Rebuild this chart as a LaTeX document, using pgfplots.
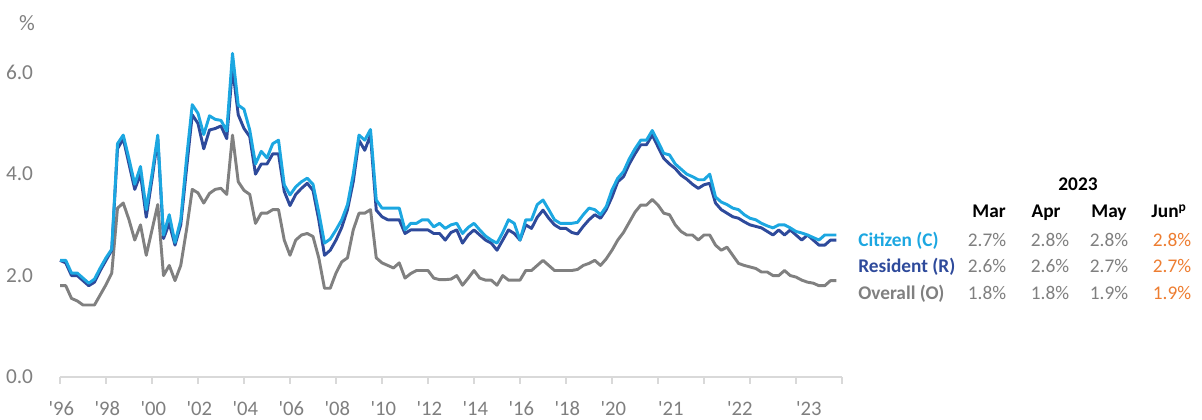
\documentclass[border=0pt]{standalone}
\usepackage{fontspec}
\setmainfont{Carlito}
\usepackage{pgfplots}
\pgfplotsset{compat=1.18}
\usepackage{pgfplotstable}
\definecolor{cit}{HTML}{1CA7E1}
\definecolor{res}{HTML}{2E4A9B}
\definecolor{ovr}{HTML}{808080}
\definecolor{lbl}{HTML}{7F7F7F}
\definecolor{org}{HTML}{ED7D31}
\definecolor{axl}{HTML}{D9D9D9}

\pgfplotstableread{
i C R O
0 2.30 2.30 1.80
1 2.30 2.25 1.80
2 2.05 2.00 1.55
3 2.05 2.00 1.50
4 1.95 1.90 1.42
5 1.85 1.80 1.42
6 1.93 1.87 1.42
7 2.15 2.10 1.62
8 2.35 2.30 1.82
9 2.52 2.50 2.05
10 4.60 4.50 3.33
11 4.77 4.70 3.43
12 4.30 4.20 3.10
13 3.80 3.70 2.70
14 4.15 4.00 3.00
15 3.30 3.15 2.40
16 4.00 3.90 2.90
17 4.77 4.70 3.40
18 2.80 2.73 2.00
19 3.20 3.03 2.20
20 2.65 2.60 1.90
21 3.10 3.00 2.20
22 4.30 4.10 2.90
23 5.37 5.17 3.70
24 5.20 5.00 3.63
25 4.78 4.50 3.43
26 5.15 4.87 3.62
27 5.08 4.90 3.70
28 5.06 4.95 3.72
29 4.85 4.70 3.60
30 6.38 6.10 4.77
31 5.36 5.17 3.85
32 5.28 4.90 3.68
33 4.87 4.74 3.60
34 4.20 4.00 3.03
35 4.45 4.20 3.23
36 4.32 4.20 3.23
37 4.60 4.40 3.30
38 4.67 4.40 3.30
39 3.79 3.66 2.70
40 3.59 3.38 2.40
41 3.75 3.60 2.70
42 3.85 3.72 2.80
43 3.92 3.82 2.83
44 3.80 3.68 2.77
45 3.25 3.10 2.35
46 2.64 2.40 1.75
47 2.72 2.50 1.75
48 2.90 2.70 2.05
49 3.10 2.95 2.27
50 3.40 3.30 2.35
51 4.00 3.85 2.90
52 4.77 4.67 3.23
53 4.67 4.47 3.23
54 4.88 4.77 3.30
55 3.49 3.29 2.35
56 3.33 3.16 2.25
57 3.33 3.10 2.20
58 3.33 3.10 2.15
59 3.33 3.10 2.25
60 2.90 2.83 1.95
61 3.03 2.90 2.04
62 3.03 2.90 2.10
63 3.10 2.90 2.10
64 3.10 2.90 2.10
65 2.96 2.83 1.95
66 3.03 2.83 1.92
67 2.93 2.70 1.92
68 3.00 2.85 1.93
69 3.03 2.90 2.00
70 2.83 2.64 1.81
71 2.95 2.80 1.95
72 3.03 2.90 2.10
73 2.90 2.80 1.95
74 2.78 2.70 1.91
75 2.70 2.64 1.91
76 2.64 2.50 1.81
77 2.85 2.70 2.00
78 3.10 2.90 1.91
79 3.03 2.83 1.91
80 2.70 2.70 1.91
81 3.10 3.00 2.10
82 3.10 2.93 2.10
83 3.40 3.15 2.20
84 3.49 3.29 2.30
85 3.30 3.13 2.20
86 3.10 3.00 2.10
87 3.03 2.93 2.10
88 3.03 2.93 2.10
89 3.03 2.85 2.10
90 3.05 2.82 2.12
91 3.20 2.97 2.20
92 3.33 3.10 2.24
93 3.30 3.20 2.30
94 3.20 3.13 2.20
95 3.36 3.30 2.33
96 3.69 3.55 2.50
97 3.92 3.85 2.70
98 4.05 3.95 2.85
99 4.30 4.20 3.05
100 4.50 4.40 3.25
101 4.67 4.58 3.39
102 4.67 4.58 3.39
103 4.86 4.77 3.50
104 4.64 4.54 3.39
105 4.41 4.31 3.23
106 4.38 4.20 3.20
107 4.20 4.11 3.00
108 4.10 3.98 2.87
109 4.00 3.90 2.80
110 3.95 3.80 2.80
111 3.89 3.72 2.70
112 3.89 3.79 2.80
113 4.00 3.82 2.80
114 3.55 3.43 2.60
115 3.45 3.30 2.50
116 3.40 3.23 2.56
117 3.33 3.16 2.40
118 3.30 3.13 2.24
119 3.20 3.06 2.20
120 3.13 3.00 2.17
121 3.10 2.97 2.14
122 3.03 2.94 2.07
123 2.98 2.87 2.07
124 2.94 2.80 2.00
125 3.00 2.90 2.00
126 3.00 2.80 2.10
127 2.94 2.90 2.00
128 2.87 2.80 1.97
129 2.84 2.70 1.91
130 2.80 2.80 1.87
131 2.75 2.70 1.85
132 2.70 2.60 1.80
133 2.80 2.60 1.80
134 2.80 2.70 1.90
135 2.80 2.70 1.90
}\data

\begin{document}
\begin{tikzpicture}[x=0.75pt,y=0.75pt]
\path (0,0) rectangle (1202,418);
\begin{axis}[
  scale only axis, width=586.5pt, height=266.25pt,
  at={(45pt,30.75pt)}, anchor=south west,
  xmin=0, xmax=136, ymin=0, ymax=7,
  axis x line*=bottom, axis y line*=left,
  x axis line style={draw=axl, line width=1pt, -},
  y axis line style={draw=none},
  tick align=outside,
  xtick={0,8,...,136}, xticklabels={},
  xtick style={draw=axl, line width=1pt},
  major tick length=5pt,
  ytick={0,2,4,6}, yticklabels={0.0,2.0,4.0,6.0},
  ytick style={draw=none},
  yticklabel style={font=\fontsize{16}{16}\selectfont, text=lbl, inner sep=0pt, xshift=-15pt},
  extra x ticks={0,8,16,24,32,40,48,56,64,72,80,88,96,106,118,130},
  extra x tick labels={\textquotesingle96,\textquotesingle98,\textquotesingle00,\textquotesingle02,\textquotesingle04,\textquotesingle06,\textquotesingle08,\textquotesingle10,\textquotesingle12,\textquotesingle14,\textquotesingle16,\textquotesingle18,\textquotesingle20,\textquotesingle21,\textquotesingle22,\textquotesingle23},
  extra x tick style={major tick length=0pt, xticklabel style={font=\fontsize{15.5}{15.5}\selectfont, text=lbl, anchor=base, yshift=-28.5pt, xshift=1pt}},
  clip=false,
  line join=round,
]
\addplot[ovr, line width=2.2pt] table[x=i, y=O] {\data};
\addplot[res, line width=2.2pt] table[x=i, y=R] {\data};
\addplot[cit, line width=2.2pt] table[x=i, y=C] {\data};
\end{axis}
\node[text=lbl, font=\fontsize{16.5}{16.5}\selectfont] at (27,395) {\%};
\begin{scope}[every node/.style={font=\fontsize{14.5}{14.5}\selectfont}]
\node[font=\fontsize{14.5}{14.5}\selectfont\bfseries] at (1078,234) {2023};
\node[font=\fontsize{14.5}{14.5}\selectfont\bfseries, anchor=base] at (989,200) {Mar};
\node[font=\fontsize{14.5}{14.5}\selectfont\bfseries, anchor=base] at (1046,200) {Apr};
\node[font=\fontsize{14.5}{14.5}\selectfont\bfseries, anchor=base] at (1109,200) {May};
\node[font=\fontsize{14.5}{14.5}\selectfont\bfseries, anchor=base] at (1169,200) {Jun\textsuperscript{p}};
\node[font=\fontsize{14.5}{14.5}\selectfont\bfseries, text=cit, anchor=base west, inner sep=0pt] at (858,171) {Citizen (C)};
\node[font=\fontsize{14.5}{14.5}\selectfont\bfseries, text=res, anchor=base west, inner sep=0pt] at (858,145) {Resident (R)};
\node[font=\fontsize{14.5}{14.5}\selectfont\bfseries, text=ovr, anchor=base west, inner sep=0pt] at (858,118) {Overall (O)};
\node[text=lbl, anchor=base] at (987,171) {2.7\%};
\node[text=lbl, anchor=base] at (1050,171) {2.8\%};
\node[text=lbl, anchor=base] at (1109,171) {2.8\%};
\node[text=org, anchor=base] at (1172,171) {2.8\%};
\node[text=lbl, anchor=base] at (987,145) {2.6\%};
\node[text=lbl, anchor=base] at (1050,145) {2.6\%};
\node[text=lbl, anchor=base] at (1109,145) {2.7\%};
\node[text=org, anchor=base] at (1172,145) {2.7\%};
\node[text=lbl, anchor=base] at (987,118) {1.8\%};
\node[text=lbl, anchor=base] at (1050,118) {1.8\%};
\node[text=lbl, anchor=base] at (1109,118) {1.9\%};
\node[text=org, anchor=base] at (1172,118) {1.9\%};
\end{scope}
\end{tikzpicture}
\end{document}
